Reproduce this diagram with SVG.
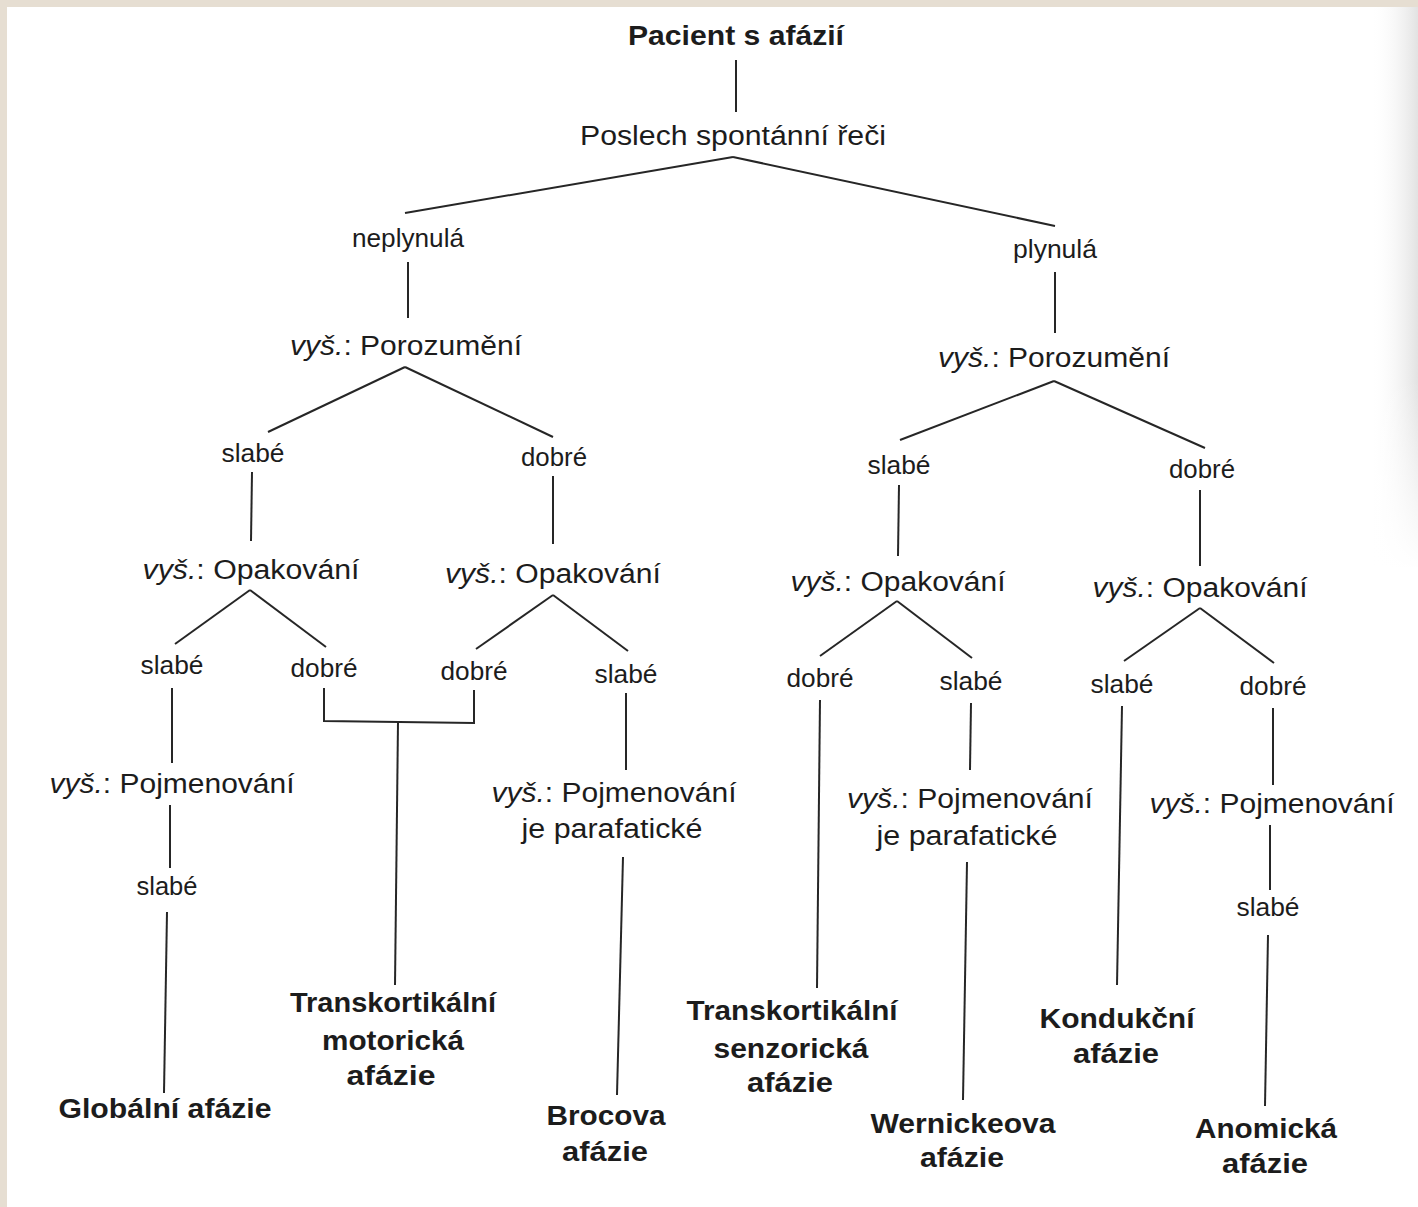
<svg xmlns="http://www.w3.org/2000/svg" width="1418" height="1207" viewBox="0 0 1418 1207">
<defs>
<style>
text{font-family:"Liberation Sans",Arial,Helvetica,sans-serif;fill:#1c1c1c;text-anchor:middle;font-size:27px}
.b{font-weight:bold}
.i{font-style:italic}
#connectors line,#connectors polyline{stroke:#262626;stroke-width:2;fill:none}
</style>
<linearGradient id="edge" x1="0" y1="0" x2="1" y2="0">
<stop offset="0" stop-color="#ffffff" stop-opacity="0"/>
<stop offset="1" stop-color="#e2e2e2" stop-opacity="1"/>
</linearGradient>
<linearGradient id="fade" x1="0" y1="0" x2="0" y2="1">
<stop offset="0" stop-color="#fff" stop-opacity="0"/>
<stop offset="1" stop-color="#fff" stop-opacity="1"/>
</linearGradient>
</defs>
<rect x="0" y="0" width="1418" height="1207" fill="#e6ded2"/>
<rect x="7" y="7" width="1411" height="1200" fill="#ffffff"/>
<rect x="1370" y="7" width="48" height="560" fill="url(#edge)"/>
<rect x="1370" y="380" width="48" height="190" fill="url(#fade)"/>

<g id="connectors">
<line x1="736" y1="60" x2="736" y2="112"/>
<line x1="733" y1="157" x2="405" y2="213"/>
<line x1="733" y1="157" x2="1055" y2="226"/>
<line x1="408" y1="262" x2="408" y2="318"/>
<line x1="1055" y1="272" x2="1055" y2="333"/>
<line x1="405" y1="367" x2="268" y2="432"/>
<line x1="405" y1="367" x2="553" y2="437"/>
<line x1="1054" y1="381" x2="900" y2="440"/>
<line x1="1054" y1="381" x2="1205" y2="448"/>
<line x1="252" y1="472" x2="251" y2="541"/>
<line x1="553" y1="476" x2="553" y2="544"/>
<line x1="899" y1="485" x2="898" y2="556"/>
<line x1="1200" y1="490" x2="1200" y2="566"/>
<line x1="250" y1="590" x2="175" y2="644"/>
<line x1="250" y1="590" x2="326" y2="647"/>
<line x1="553" y1="595" x2="476" y2="649"/>
<line x1="553" y1="595" x2="628" y2="651"/>
<line x1="897" y1="601" x2="820" y2="656"/>
<line x1="897" y1="601" x2="972" y2="658"/>
<line x1="1200" y1="608" x2="1124" y2="661"/>
<line x1="1200" y1="608" x2="1274" y2="663"/>
<polyline points="324,688 324,721 474,723 474,690"/>
<line x1="398" y1="722" x2="395" y2="985"/>
<line x1="172" y1="688" x2="172" y2="763"/>
<line x1="170" y1="805" x2="170" y2="868"/>
<line x1="167" y1="912" x2="164" y2="1093"/>
<line x1="626" y1="693" x2="626" y2="770"/>
<line x1="623" y1="857" x2="617" y2="1095"/>
<line x1="820" y1="700" x2="817" y2="988"/>
<line x1="971" y1="703" x2="970" y2="770"/>
<line x1="967" y1="862" x2="963" y2="1100"/>
<line x1="1122" y1="706" x2="1117" y2="985"/>
<line x1="1273" y1="708" x2="1273" y2="785"/>
<line x1="1270" y1="825" x2="1270" y2="890"/>
<line x1="1268" y1="935" x2="1265" y2="1106"/>
</g>

<g id="n-root"><text class="b" x="736" y="45" textLength="216" lengthAdjust="spacingAndGlyphs" style="font-size:28px">Pacient s afázií</text></g>
<g id="n-poslech"><text x="733" y="145" textLength="306" lengthAdjust="spacingAndGlyphs">Poslech spontánní řeči</text></g>
<g id="n-neplynula"><text x="408" y="247" textLength="112" lengthAdjust="spacingAndGlyphs" style="font-size:25px">neplynulá</text></g>
<g id="n-plynula"><text x="1055" y="258" textLength="84" lengthAdjust="spacingAndGlyphs" style="font-size:25px">plynulá</text></g>
<g id="n-porL"><text x="406" y="355" textLength="232" lengthAdjust="spacingAndGlyphs"><tspan class="i">vyš.</tspan>: Porozumění</text></g>
<g id="n-porR"><text x="1054" y="367" textLength="232" lengthAdjust="spacingAndGlyphs"><tspan class="i">vyš.</tspan>: Porozumění</text></g>
<g id="n-slabe1"><text x="253" y="462" textLength="63" lengthAdjust="spacingAndGlyphs" style="font-size:25px">slabé</text></g>
<g id="n-dobre1"><text x="554" y="466" textLength="66" lengthAdjust="spacingAndGlyphs" style="font-size:25px">dobré</text></g>
<g id="n-slabe2"><text x="899" y="474" textLength="63" lengthAdjust="spacingAndGlyphs" style="font-size:25px">slabé</text></g>
<g id="n-dobre2"><text x="1202" y="478" textLength="66" lengthAdjust="spacingAndGlyphs" style="font-size:25px">dobré</text></g>
<g id="n-opak1"><text x="251" y="579" textLength="217" lengthAdjust="spacingAndGlyphs"><tspan class="i">vyš.</tspan>: Opakování</text></g>
<g id="n-opak2"><text x="553" y="583" textLength="216" lengthAdjust="spacingAndGlyphs"><tspan class="i">vyš.</tspan>: Opakování</text></g>
<g id="n-opak3"><text x="898" y="591" textLength="215" lengthAdjust="spacingAndGlyphs"><tspan class="i">vyš.</tspan>: Opakování</text></g>
<g id="n-opak4"><text x="1200" y="597" textLength="215" lengthAdjust="spacingAndGlyphs"><tspan class="i">vyš.</tspan>: Opakování</text></g>
<g id="n-s3a"><text x="172" y="674" textLength="63" lengthAdjust="spacingAndGlyphs" style="font-size:25px">slabé</text></g>
<g id="n-d3b"><text x="324" y="677" textLength="67" lengthAdjust="spacingAndGlyphs" style="font-size:25px">dobré</text></g>
<g id="n-d3c"><text x="474" y="680" textLength="67" lengthAdjust="spacingAndGlyphs" style="font-size:25px">dobré</text></g>
<g id="n-s3d"><text x="626" y="683" textLength="63" lengthAdjust="spacingAndGlyphs" style="font-size:25px">slabé</text></g>
<g id="n-d3e"><text x="820" y="687" textLength="67" lengthAdjust="spacingAndGlyphs" style="font-size:25px">dobré</text></g>
<g id="n-s3f"><text x="971" y="690" textLength="63" lengthAdjust="spacingAndGlyphs" style="font-size:25px">slabé</text></g>
<g id="n-s3g"><text x="1122" y="693" textLength="63" lengthAdjust="spacingAndGlyphs" style="font-size:25px">slabé</text></g>
<g id="n-d3h"><text x="1273" y="695" textLength="67" lengthAdjust="spacingAndGlyphs" style="font-size:25px">dobré</text></g>
<g id="n-pojm1"><text x="172" y="793" textLength="245" lengthAdjust="spacingAndGlyphs"><tspan class="i">vyš.</tspan>: Pojmenování</text></g>
<g id="n-s4a"><text x="167" y="895" textLength="61" lengthAdjust="spacingAndGlyphs" style="font-size:25px">slabé</text></g>
<g id="n-pojm2"><text x="614" y="802" textLength="245" lengthAdjust="spacingAndGlyphs"><tspan class="i">vyš.</tspan>: Pojmenování</text><text x="612" y="838" textLength="181" lengthAdjust="spacingAndGlyphs">je parafatické</text></g>
<g id="n-pojm3"><text x="970" y="808" textLength="246" lengthAdjust="spacingAndGlyphs"><tspan class="i">vyš.</tspan>: Pojmenování</text><text x="967" y="845" textLength="181" lengthAdjust="spacingAndGlyphs">je parafatické</text></g>
<g id="n-pojm4"><text x="1272" y="813" textLength="245" lengthAdjust="spacingAndGlyphs"><tspan class="i">vyš.</tspan>: Pojmenování</text></g>
<g id="n-s4b"><text x="1268" y="916" textLength="63" lengthAdjust="spacingAndGlyphs" style="font-size:25px">slabé</text></g>

<g id="n-globalni"><text class="b" x="165" y="1118" textLength="213" lengthAdjust="spacingAndGlyphs">Globální afázie</text></g>
<g id="n-tkm"><text class="b" x="393" y="1012" textLength="206" lengthAdjust="spacingAndGlyphs">Transkortikální</text><text class="b" x="393" y="1050" textLength="142" lengthAdjust="spacingAndGlyphs">motorická</text><text class="b" x="391" y="1085" textLength="89" lengthAdjust="spacingAndGlyphs">afázie</text></g>
<g id="n-broca"><text class="b" x="606" y="1125" textLength="119" lengthAdjust="spacingAndGlyphs">Brocova</text><text class="b" x="605" y="1161" textLength="86" lengthAdjust="spacingAndGlyphs">afázie</text></g>
<g id="n-tks"><text class="b" x="792" y="1020" textLength="211" lengthAdjust="spacingAndGlyphs">Transkortikální</text><text class="b" x="791" y="1058" textLength="155" lengthAdjust="spacingAndGlyphs">senzorická</text><text class="b" x="790" y="1092" textLength="86" lengthAdjust="spacingAndGlyphs">afázie</text></g>
<g id="n-wernicke"><text class="b" x="963" y="1133" textLength="185" lengthAdjust="spacingAndGlyphs">Wernickeova</text><text class="b" x="962" y="1167" textLength="84" lengthAdjust="spacingAndGlyphs">afázie</text></g>
<g id="n-kondukcni"><text class="b" x="1117" y="1028" textLength="155" lengthAdjust="spacingAndGlyphs">Kondukční</text><text class="b" x="1116" y="1063" textLength="86" lengthAdjust="spacingAndGlyphs">afázie</text></g>
<g id="n-anomicka"><text class="b" x="1266" y="1138" textLength="142" lengthAdjust="spacingAndGlyphs">Anomická</text><text class="b" x="1265" y="1173" textLength="86" lengthAdjust="spacingAndGlyphs">afázie</text></g>
</svg>
